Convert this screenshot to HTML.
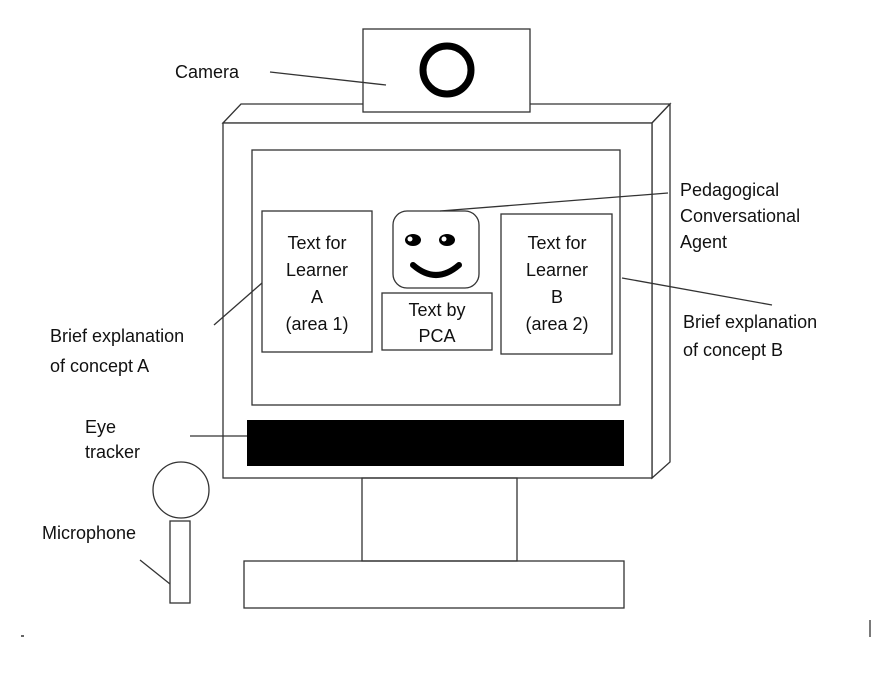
<!DOCTYPE html>
<html><head><meta charset="utf-8"><style>
body{margin:0;background:#fff;}
svg text{font-family:"Liberation Sans",sans-serif;font-size:18px;fill:#111;}
</style></head><body>
<svg width="888" height="674" viewBox="0 0 888 674" xmlns="http://www.w3.org/2000/svg">
<g fill="none" stroke="#333" stroke-width="1.3">
<!-- monitor -->
<polygon points="223,123 241,104 670,104 652,123" fill="#fff"/>
<polygon points="652,123 670,104 670,462 652,478" fill="#fff"/>
<rect x="223" y="123" width="429" height="355" fill="#fff"/>
<rect x="252" y="150" width="368" height="255"/>
<!-- camera -->
<rect x="363" y="29" width="167" height="83" fill="#fff"/>
<!-- stand -->
<rect x="362" y="478" width="155" height="83"/>
<rect x="244" y="561" width="380" height="47"/>
<!-- boxes -->
<rect x="262" y="211" width="110" height="141"/>
<rect x="393" y="211" width="86" height="77" rx="14"/>
<rect x="382" y="293" width="110" height="57"/>
<rect x="501" y="214" width="111" height="140"/>
<!-- mic -->
<circle cx="181" cy="490" r="28" fill="#fff"/>
<rect x="170" y="521" width="20" height="82" fill="#fff"/>
<!-- leader lines -->
<line x1="270" y1="72" x2="386" y2="85"/>
<line x1="440" y1="211" x2="668" y2="193"/>
<line x1="622" y1="278" x2="772" y2="305"/>
<line x1="262" y1="283" x2="214" y2="325"/>
<line x1="190" y1="436" x2="247" y2="436"/>
<line x1="140" y1="560" x2="170" y2="584"/>
<line x1="870" y1="620" x2="870" y2="637"/>
</g>
<circle cx="447" cy="70" r="24" fill="none" stroke="#000" stroke-width="7"/>
<rect x="247" y="420" width="377" height="46" fill="#000"/>
<!-- face -->
<ellipse cx="413" cy="240" rx="8" ry="6" fill="#000"/>
<ellipse cx="447" cy="240" rx="8" ry="6" fill="#000"/>
<circle cx="410" cy="239" r="2.5" fill="#fff"/>
<circle cx="444" cy="239" r="2.5" fill="#fff"/>
<path d="M413,265 Q436,285 459,265" fill="none" stroke="#000" stroke-width="6" stroke-linecap="round"/>
<g text-anchor="middle" style="font-size:19px">
<text x="317" y="249">Text for</text>
<text x="317" y="276">Learner</text>
<text x="317" y="303">A</text>
<text x="317" y="330">(area 1)</text>
<text x="557" y="249">Text for</text>
<text x="557" y="276">Learner</text>
<text x="557" y="303">B</text>
<text x="557" y="330">(area 2)</text>
<text x="437" y="316">Text by</text>
<text x="437" y="342">PCA</text>
</g>
<text x="175" y="78">Camera</text>
<text x="680" y="196">Pedagogical</text>
<text x="680" y="222">Conversational</text>
<text x="680" y="248">Agent</text>
<text x="683" y="328">Brief explanation</text>
<text x="683" y="356">of concept B</text>
<text x="50" y="342">Brief explanation</text>
<text x="50" y="372">of concept A</text>
<text x="85" y="433">Eye</text>
<text x="85" y="458">tracker</text>
<text x="42" y="539">Microphone</text>
<rect x="21" y="635" width="3" height="2" fill="#666"/>
</svg>
</body></html>
